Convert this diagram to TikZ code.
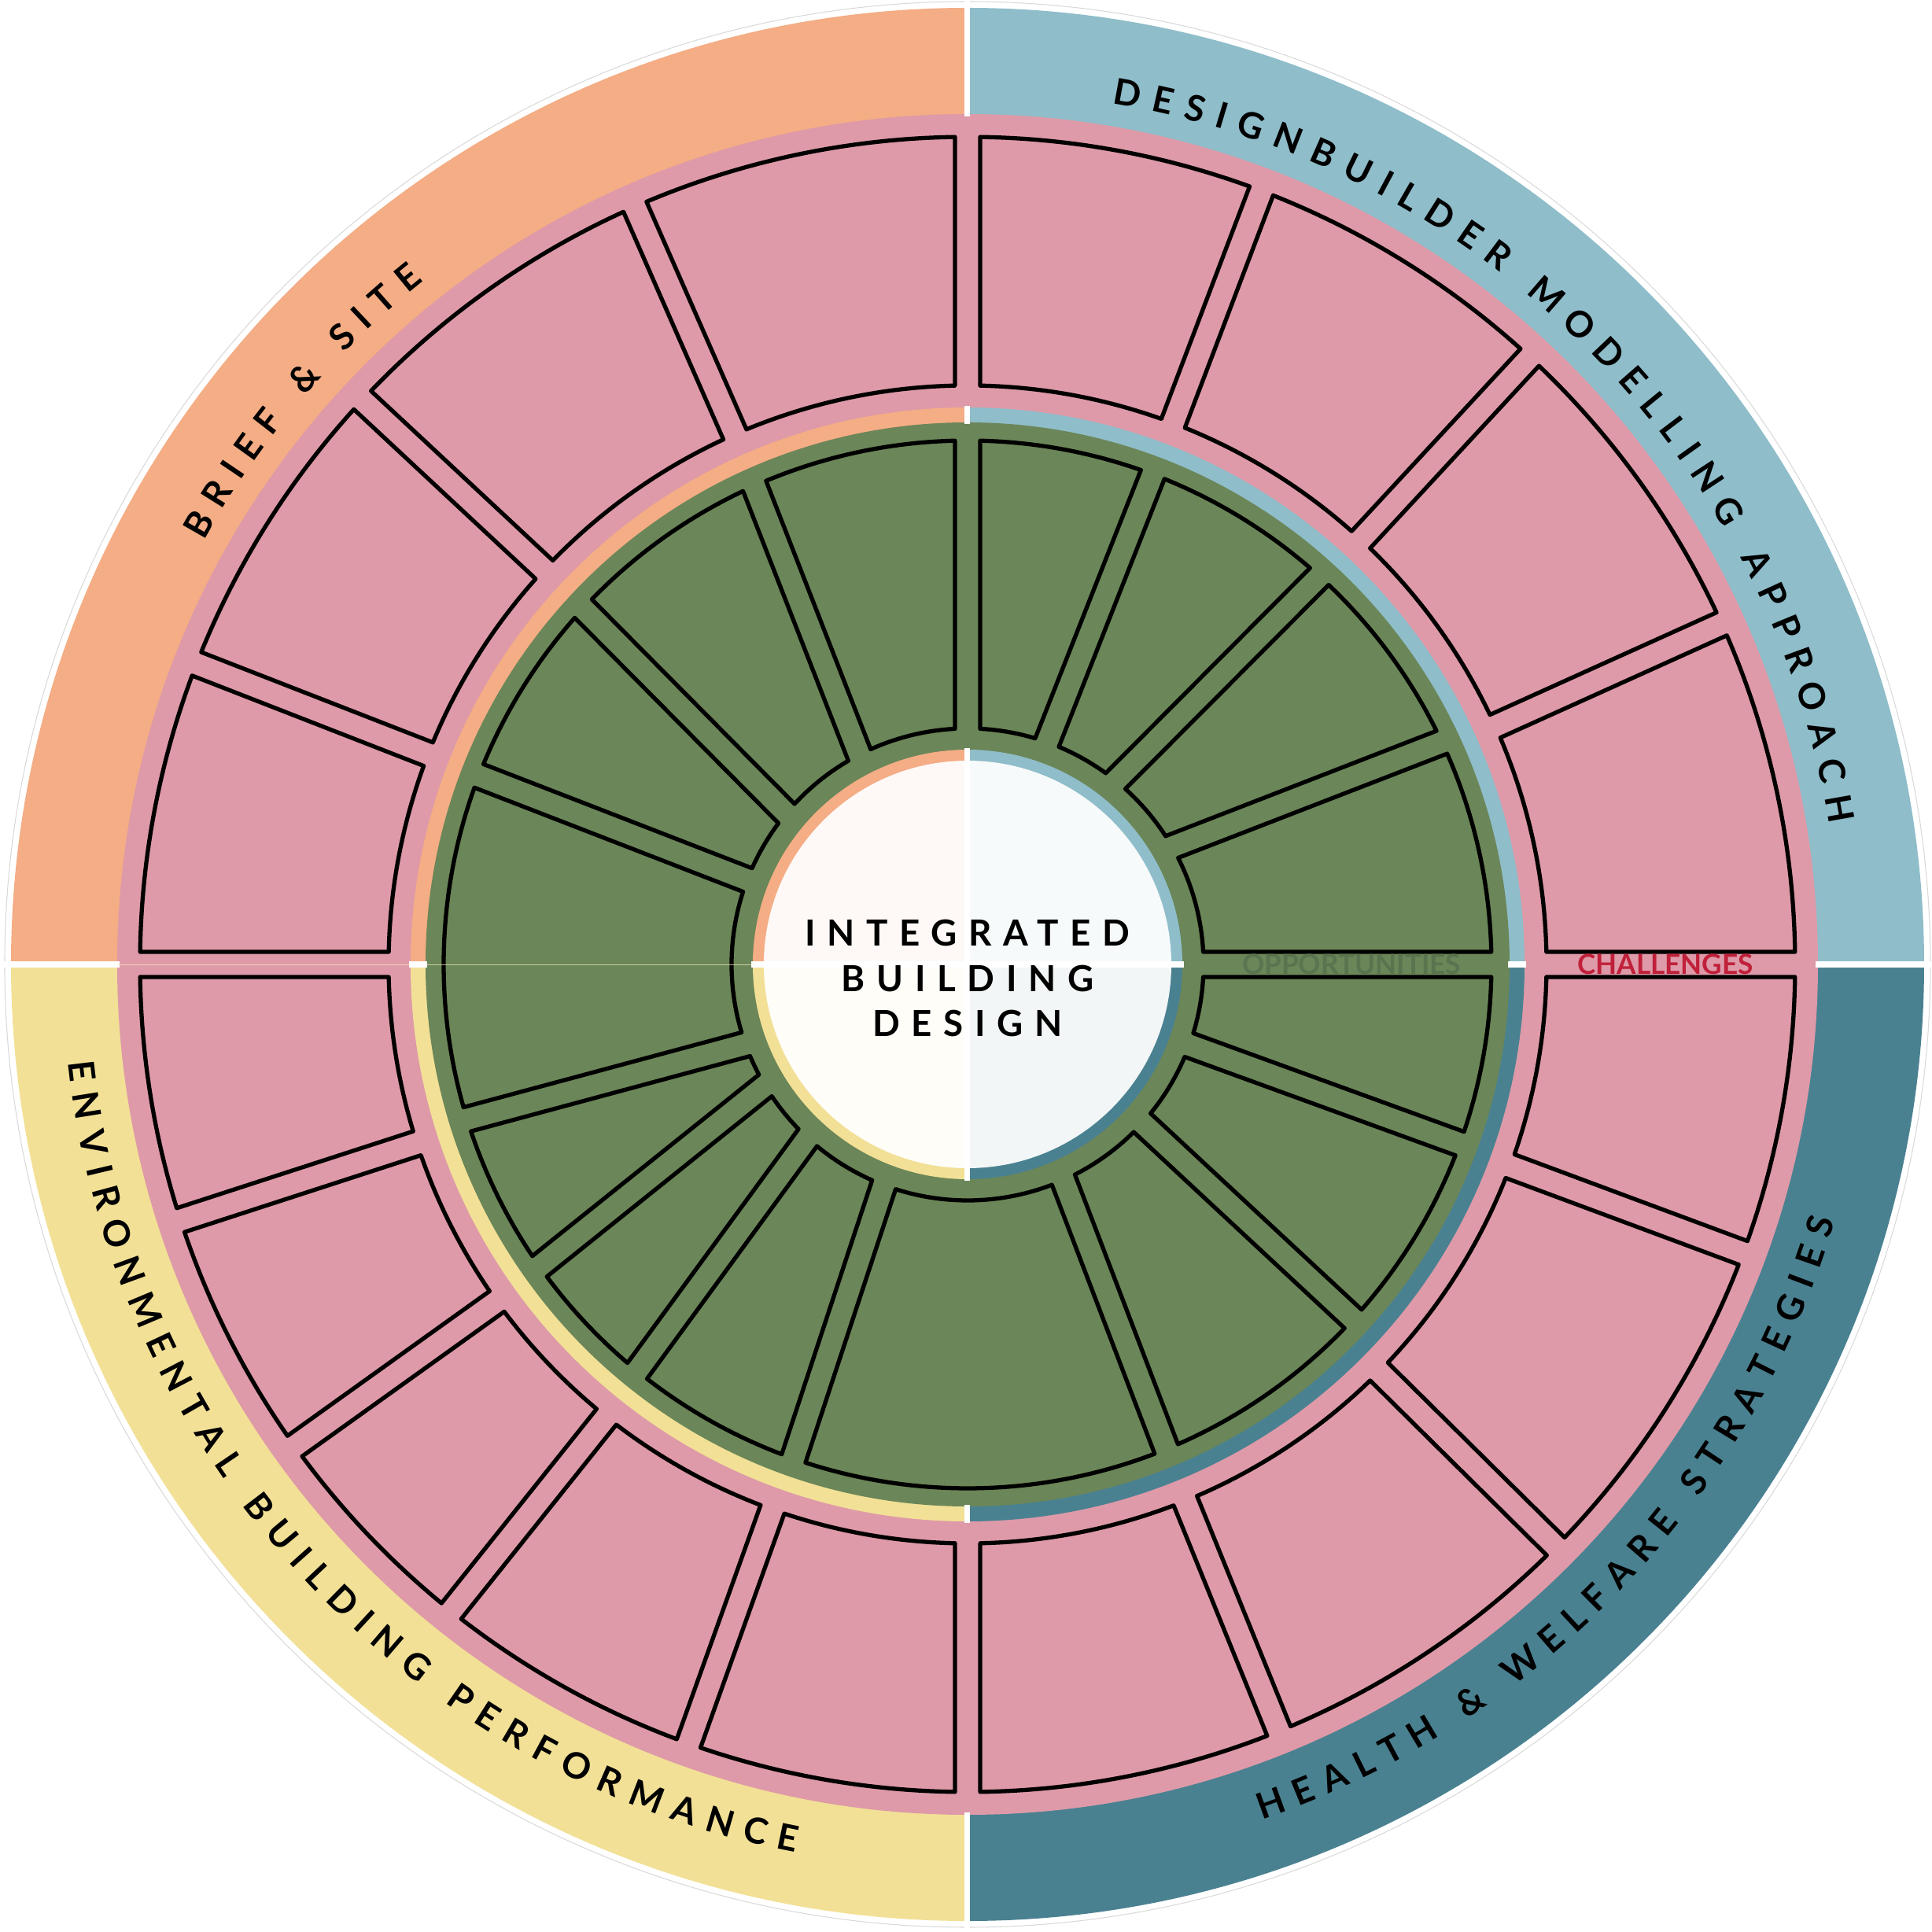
\documentclass[tikz,border=0pt]{standalone}
\usepackage{fontspec}
\setmainfont{Lato}
\newfontfamily\ringfont{Lato}
\newfontfamily\centrefont[LetterSpace=32]{Lato}
\usetikzlibrary{decorations.text}

\definecolor{briefcol}{HTML}{F4AD85}
\definecolor{designcol}{HTML}{8FBDCA}
\definecolor{healthcol}{HTML}{4A8191}
\definecolor{envcol}{HTML}{F2E096}
\definecolor{pinkring}{HTML}{DE9AA8}
\definecolor{greenring}{HTML}{6B8658}
\definecolor{oppcol}{HTML}{5A744F}
\definecolor{challcol}{HTML}{C0203A}

\newcommand{\ringstyle}{\ringfont\bfseries\fontsize{13pt}{15pt}\selectfont}

% box between two separators: style, inner/outer angle of first, inner/outer angle of second, radii
\newcommand{\ringbox}[7]{%
  \pgfmathsetmacro{\offin}{deg(0.16/#6)}%
  \pgfmathsetmacro{\offout}{deg(0.16/#7)}%
  \draw[#1] ({#2+\offin}:#6) -- ({#3+\offout}:#7)
    arc[start angle={#3+\offout}, end angle={#5-\offout}, radius=#7]
    -- ({#4-\offin}:#6)
    arc[start angle={#4-\offin}, end angle={#2+\offin}, radius=#6] -- cycle;
}

\begin{document}
\begin{tikzpicture}[
    segpink/.style={fill=pinkring, draw=black, line width=1.5pt, line join=round},
    seggreen/.style={fill=greenring, draw=black, line width=1.5pt, line join=round},
    ringlabel/.style={decorate, decoration={text along path, text align=fit to path, text={#1}}},
    gap/.style={white, line width=0.07cm},
    centretext/.style={font=\centrefont\bfseries\fontsize{13pt}{15pt}\selectfont, inner sep=0pt, anchor=base},
    smalllabel/.style={font=\ringfont\bfseries\fontsize{10pt}{12pt}\selectfont, inner sep=0pt}
  ]
  \useasboundingbox (-12.30,-12.30) rectangle (12.25,12.26);

  % quarters
  \foreach \a/\col in {0/designcol, 90/briefcol, 180/envcol, 270/healthcol}{
    \fill[\col] (0,0) -- (\a:12.16) arc[start angle=\a, end angle=\a+90, radius=12.16] -- cycle;
  }
  \draw[gray!30, line width=0.3pt] (0,0) circle[radius=12.24];
  \fill[pinkring] (0,0) circle[radius=10.81];
  \foreach \a/\col in {0/designcol, 90/briefcol, 180/envcol, 270/healthcol}{
    \fill[\col] (0,0) -- (\a:7.08) arc[start angle=\a, end angle=\a+90, radius=7.08] -- cycle;
  }
  \fill[greenring] (0,0) circle[radius=6.89];
  \foreach \a/\col in {0/designcol, 90/briefcol, 180/envcol, 270/healthcol}{
    \fill[\col] (0,0) -- (\a:2.73) arc[start angle=\a, end angle=\a+90, radius=2.73] -- cycle;
    \fill[\col!7!white] (0,0) -- (\a:2.59) arc[start angle=\a, end angle=\a+90, radius=2.59] -- cycle;
  }
  \foreach \a in {0,90,180,270}{
    \draw[gap] (\a:10.78) -- (\a:12.3);
    \draw[gap] (\a:6.87) -- (\a:7.10);
    \draw[gap] (0,0) -- (\a:2.75);
  }

  % challenges ring
  \foreach \a/\b in {0/24.3, 24.3/47.2, 47.2/69.2, 69.2/90, 90/113.7, 113.7/137, 137/158.7, 158.7/180,
                     180/198, 198/215.6, 215.6/231.4, 231.4/250.3, 250.3/270,
                     -90/-67.9, -67.9/-44.7, -44.7/-20.4, -20.4/0}{
    \ringbox{segpink}{\a}{\a}{\b}{\b}{7.36}{10.52}
  }

  % opportunities ring
  \foreach \ia/\oa/\ib/\ob in {-110.8/-109.4/-66/-67.7, -66/-67.7/-42.2/-42.6, -42.2/-42.6/-20/-20,
                               -20/-20/0/0, 0/0/29.9/25.1, 29.9/25.1/51.1/47.8, 51.1/47.8/70.3/69.3,
                               70.3/69.3/90/90, 90/90/117.3/114, 117.3/114/140.2/137.2,
                               140.2/137.2/159/158.9, 159/158.9/199.8/197.2, 199.8/197.2/210.9/215.2,
                               210.9/215.2/227.3/230.9, 227.3/230.9/249.2/250.6}{
    \ringbox{seggreen}{\ia}{\oa}{\ib}{\ob}{3.00}{6.66}
  }
  \draw[envcol!60!white, line width=0.25pt, opacity=0.7] (180:2.73) -- (180:6.89);
  \draw[envcol!60!white, line width=0.25pt, opacity=0.7] (180:7.08) -- (180:10.81);

  % ring titles
  \path[ringlabel={|\ringstyle|BRIEF {\&} SITE}]
    (151:11.1) arc[start angle=151, end angle=128.5, radius=11.1];
  \path[ringlabel={|\ringstyle|DESIGNBUILDER MODELLING APPROACH}]
    (80.5:11.1) arc[start angle=80.5, end angle=9.3, radius=11.1];
  \path[ringlabel={|\ringstyle|HEALTH {\&} WELFARE STRATEGIES}]
    (-71:11.5) arc[start angle=-71, end angle=-16.5, radius=11.5];
  \path[ringlabel={|\ringstyle|ENVIRONMENTAL BUILDING PERFORMANCE}]
    (186.2:11.5) arc[start angle=186.2, end angle=259, radius=11.5];

  % centre
  \node[centretext] (integrated) at (0,0.23) {INTEGRATED};
  \node[centretext] (building) at (0,-0.34) {BUILDING};
  \node[centretext] (design) at (0,-0.91) {DESIGN};

  \node[smalllabel, text=oppcol] (opps) at (4.88,0) {OPPORTUNITIES};
  \node[smalllabel, text=challcol] (challs) at (8.87,0) {CHALLENGES};
\end{tikzpicture}
\end{document}
